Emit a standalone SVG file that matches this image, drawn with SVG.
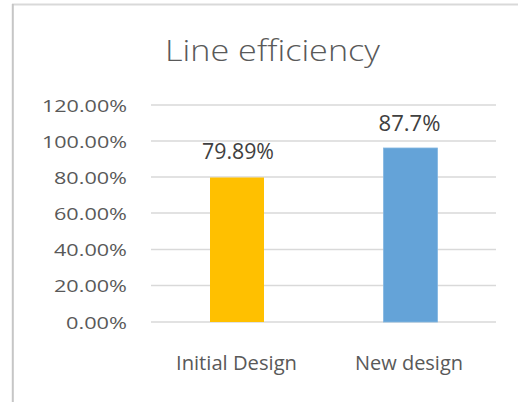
<svg xmlns="http://www.w3.org/2000/svg" width="518" height="402" viewBox="0 0 518 402">
<style>
.grid{stroke:#d9d9d9;stroke-width:1.3;fill:none}
.ax{font-family:"Open Sans","Liberation Sans",sans-serif;font-size:17px;fill:#595959;text-anchor:end}
.lbl{font-family:"Open Sans","Liberation Sans",sans-serif;font-size:21px;fill:#404040}
.cat{font-family:"Open Sans","Liberation Sans",sans-serif;font-size:20px;fill:#595959}
.title{font-family:"Open Sans","Liberation Sans",sans-serif;font-size:30px;fill:#595959;font-weight:300}
</style>
<rect x="0" y="0" width="518" height="402" fill="#ffffff"/>
<g id="frame">
<line x1="12" y1="4.5" x2="518" y2="4.5" stroke="#d9d9d9" stroke-width="2"/>
<line x1="12.8" y1="4" x2="12.8" y2="402" stroke="#c6c6c6" stroke-width="2"/>
</g>
<text id="title" class="title" x="165" y="61" textLength="215" lengthAdjust="spacingAndGlyphs">Line efficiency</text>
<g id="gridlines">
<line class="grid" x1="151" y1="105" x2="496" y2="105"/>
<line class="grid" x1="151" y1="141" x2="496" y2="141"/>
<line class="grid" x1="151" y1="177" x2="496" y2="177"/>
<line class="grid" x1="151" y1="213" x2="496" y2="213"/>
<line class="grid" x1="151" y1="249.5" x2="496" y2="249.5"/>
<line class="grid" x1="151" y1="285.5" x2="496" y2="285.5"/>
<line class="grid" x1="151" y1="322" x2="496" y2="322"/>
</g>
<g id="yaxis">
<text class="ax" x="127" y="111.5" textLength="85" lengthAdjust="spacingAndGlyphs">120.00%</text>
<text class="ax" x="127" y="147.5" textLength="85" lengthAdjust="spacingAndGlyphs">100.00%</text>
<text class="ax" x="127" y="183.5" textLength="73" lengthAdjust="spacingAndGlyphs">80.00%</text>
<text class="ax" x="127" y="219.5" textLength="73" lengthAdjust="spacingAndGlyphs">60.00%</text>
<text class="ax" x="127" y="256" textLength="73" lengthAdjust="spacingAndGlyphs">40.00%</text>
<text class="ax" x="127" y="292" textLength="73" lengthAdjust="spacingAndGlyphs">20.00%</text>
<text class="ax" x="127" y="328.5" textLength="61" lengthAdjust="spacingAndGlyphs">0.00%</text>
</g>
<g id="bar-initial">
<rect x="210" y="177.5" width="54" height="144.5" fill="#ffc000"/>
<text class="lbl" x="202" y="158.5" textLength="72" lengthAdjust="spacingAndGlyphs">79.89%</text>
</g>
<g id="bar-new">
<rect x="383.5" y="148" width="54" height="174" fill="#64a3d8" stroke="#82b6e2" stroke-width="0.8"/>
<text class="lbl" x="378.5" y="131" textLength="62" lengthAdjust="spacingAndGlyphs">87.7%</text>
</g>
<g id="xaxis">
<text class="cat" x="176" y="369.5" textLength="121" lengthAdjust="spacingAndGlyphs">Initial Design</text>
<text class="cat" x="355" y="369.5" textLength="108" lengthAdjust="spacingAndGlyphs">New design</text>
</g>
</svg>
